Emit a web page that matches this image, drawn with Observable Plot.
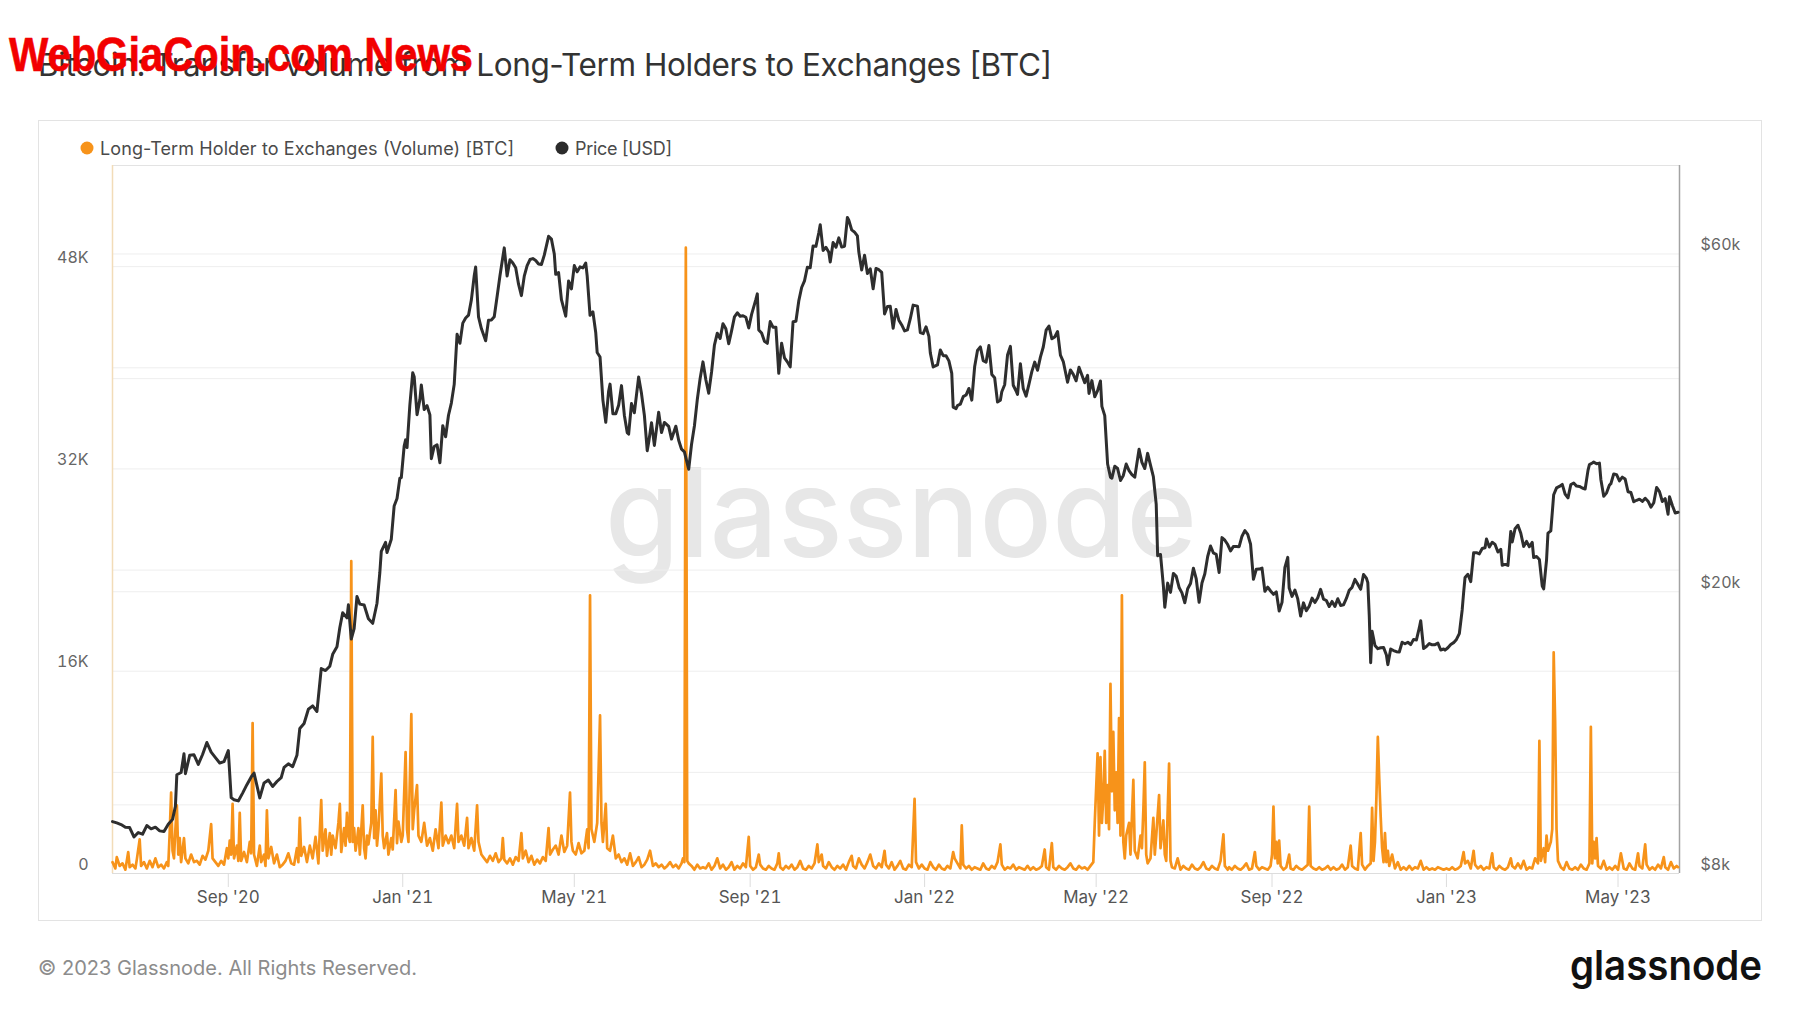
<!DOCTYPE html>
<html><head><meta charset="utf-8">
<script src="https://cdn.jsdelivr.net/npm/d3@7"></script>
<script src="https://cdn.jsdelivr.net/npm/@observablehq/plot@0.6"></script>
<style>
html,body{margin:0;padding:0;background:#fff;}
body{width:1800px;height:1013px;position:relative;overflow:hidden;font-family:Inter,"Noto Sans",sans-serif;}
#overlay{position:absolute;left:0;top:0;}
#chart{position:absolute;left:38px;top:120px;}
</style></head>
<body>
<svg id="overlay" width="1800" height="1013" xmlns="http://www.w3.org/2000/svg">
  <rect x="38.5" y="120.5" width="1723" height="800" fill="none" stroke="#e3e3e3" stroke-width="1"/>
  <text x="605" y="557" font-family="Inter" font-weight="500" font-size="124" fill="#e7e7e7" textLength="592" lengthAdjust="spacingAndGlyphs">glassnode</text>
  <text x="38" y="76" font-family="Inter" font-size="31.5" fill="#333" textLength="1014">Bitcoin: Transfer Volume from Long-Term Holders to Exchanges [BTC]</text>
  <text x="9" y="71" font-family="Liberation Sans, Arial" font-weight="bold" font-size="48" fill="#f20000" stroke="#f20000" stroke-width="0.6" textLength="464" lengthAdjust="spacingAndGlyphs">WebGiaCoin.com News</text>
  <circle cx="87" cy="148" r="6.5" fill="#f7931a"/>
  <text x="100" y="154.5" font-family="Inter" font-size="18" fill="#4a4a4a" textLength="414">Long-Term Holder to Exchanges (Volume) [BTC]</text>
  <circle cx="562" cy="148" r="6.5" fill="#2b2b2b"/>
  <text x="575" y="154.5" font-family="Inter" font-size="18" fill="#4a4a4a" textLength="97">Price [USD]</text>
  <text x="38" y="975" font-family="Inter" font-size="20" fill="#8c8c8c" textLength="379">© 2023 Glassnode. All Rights Reserved.</text>
  <text x="1762" y="980" text-anchor="end" font-family="Inter" font-weight="600" font-size="41" fill="#111" textLength="192" lengthAdjust="spacingAndGlyphs">glassnode</text>
</svg>
<div id="chart"></div>
<script>
// ---------- DATA ----------
const xTicks = ["2020-09-01","2021-01-01","2021-05-01","2021-09-01","2022-01-01","2022-05-01","2022-09-01","2023-01-01","2023-05-01"];
const volTicks = [0, 16000, 32000, 48000];
const volGrid = [8000, 16000, 24000, 32000, 40000, 48000];
const priceTicks = [8000, 20000, 60000];
const priceGrid = [10000, 20000, 40000, 60000];

const price2020 = [["06-12",9470],["06-15",9430],["06-18",9380],["06-21",9300],["06-24",9290],["06-27",9010],["06-30",9140],["07-03",9090],["07-06",9350],["07-09",9250],["07-12",9300],["07-15",9190],["07-18",9170],["07-21",9390],["07-24",9540],["07-26",9950],["07-27",11030],["07-30",11110],["08-01",11810],["08-02",11070],["08-05",11750],["08-08",11770],["08-11",11410],["08-14",11780],["08-17",12250],["08-20",11870],["08-23",11660],["08-26",11460],["08-29",11510],["09-01",11930],["09-03",10240],["09-05",10170],["09-08",10130],["09-11",10390],["09-14",10680],["09-17",10950],["09-19",11090],["09-23",10230],["09-26",10740],["09-29",10840],["10-02",10620],["10-05",10790],["10-08",10930],["10-10",11300],["10-13",11430],["10-16",11320],["10-19",11750],["10-21",12820],["10-24",13030],["10-27",13650],["10-30",13800],["11-02",13550],["11-05",15580],["11-08",15480],["11-11",15700],["11-13",16320],["11-16",16720],["11-18",17800],["11-20",18680],["11-23",18370],["11-24",19170],["11-26",17150],["11-28",17740],["11-30",19700],["12-02",19210],["12-05",19160],["12-08",18320],["12-11",18050],["12-14",19270],["12-16",21310],["12-17",22800],["12-20",23480],["12-21",22720],["12-24",23730],["12-26",26440],["12-28",27080],["12-30",28950],["12-31",29000]];
const price2021 = [["01-02",32130],["01-03",32780],["01-04",31970],["01-06",36770],["01-08",40780],["01-09",40250],["01-11",35570],["01-13",37390],["01-14",39190],["01-16",36180],["01-18",36630],["01-20",35550],["01-21",30830],["01-23",32080],["01-25",32260],["01-27",30430],["01-29",34320],["01-31",33110],["02-02",35510],["02-04",36940],["02-06",39260],["02-08",46200],["02-10",44880],["02-12",47910],["02-14",48720],["02-16",49170],["02-18",51680],["02-20",55890],["02-21",57490],["02-23",48890],["02-25",47070],["02-28",45240],["03-02",48380],["03-04",48410],["03-06",48910],["03-08",52250],["03-10",55900],["03-13",61200],["03-15",55850],["03-17",58900],["03-19",58250],["03-21",57350],["03-23",54390],["03-25",52400],["03-27",55830],["03-29",57750],["03-31",58920],["04-02",59100],["04-04",58730],["04-06",58070],["04-08",57970],["04-10",59770],["04-13",63540],["04-15",62970],["04-17",60000],["04-18",56150],["04-20",56470],["04-22",51700],["04-25",49000],["04-27",54960],["04-29",53550],["05-01",57770],["05-03",56620],["05-05",57530],["05-07",57340],["05-09",58240],["05-10",55860],["05-12",49150],["05-14",49710],["05-16",46430],["05-17",43540],["05-19",42910],["05-21",37300],["05-23",34700],["05-25",38400],["05-26",39290],["05-28",35680],["05-30",35680],["06-01",36690],["06-03",39100],["06-05",35520],["06-07",33560],["06-08",33400],["06-10",36880],["06-12",35800],["06-15",40220],["06-17",38100],["06-19",35510],["06-21",31640],["06-22",32500],["06-24",34660],["06-26",32190],["06-29",35870],["07-01",33570],["07-03",34690],["07-06",34240],["07-08",32860],["07-11",34270],["07-13",32730],["07-15",31800],["07-17",31530],["07-20",29790],["07-22",32310],["07-24",34290],["07-26",37340],["07-28",40010],["07-30",42240],["08-01",39860],["08-03",38150],["08-05",40870],["08-07",44610],["08-09",46370],["08-11",45590],["08-13",47830],["08-15",47050],["08-17",44800],["08-19",46720],["08-21",48900],["08-23",49550],["08-25",48990],["08-27",49070],["08-29",48830],["08-31",47170],["09-02",49290],["09-05",51760],["09-06",52700],["09-07",46860],["09-09",46400],["09-11",45160],["09-13",44870],["09-15",48150],["09-17",47280],["09-19",47290],["09-21",40700],["09-23",44880],["09-25",42800],["09-27",42240],["09-29",41560],["10-01",48130],["10-03",48200],["10-05",51500],["10-07",53800],["10-09",54970],["10-11",57470],["10-13",57370],["10-15",61580],["10-17",61500],["10-19",64280],["10-20",66000],["10-22",60690],["10-24",61310],["10-26",60350],["10-27",58450],["10-29",62270],["10-31",61310],["11-02",63230],["11-04",61370],["11-06",61530],["11-08",67550],["11-09",66950],["11-11",64900],["11-13",64400],["11-15",63620],["11-16",60370],["11-18",56940],["11-20",59750],["11-22",56300],["11-24",57170],["11-26",53570],["11-28",57230],["11-30",57000],["12-02",56500],["12-04",49370],["12-06",50580],["12-08",50600],["12-10",47130],["12-12",50100],["12-14",48380],["12-16",47630],["12-18",46710],["12-20",46880],["12-22",48600],["12-24",50800],["12-27",50640],["12-29",46460],["12-31",46300]];
const price2022 = [["01-02",47350],["01-04",45900],["01-05",43500],["01-07",41550],["01-10",41820],["01-12",43900],["01-14",43100],["01-16",43090],["01-18",42380],["01-20",40680],["01-21",36460],["01-23",36280],["01-24",36650],["01-26",36820],["01-28",37720],["01-30",37920],["02-01",38740],["02-03",37300],["02-05",41570],["02-07",43840],["02-09",44360],["02-11",42410],["02-13",42200],["02-15",44540],["02-17",40550],["02-19",40120],["02-21",37070],["02-23",37280],["02-24",38330],["02-26",39210],["02-28",43190],["03-02",44420],["03-04",39150],["03-06",38420],["03-07",37990],["03-09",41980],["03-11",38730],["03-13",37790],["03-15",39280],["03-17",40920],["03-19",42210],["03-21",41110],["03-23",42900],["03-25",44330],["03-27",46820],["03-29",47460],["03-31",45540],["04-02",45810],["04-04",46620],["04-06",43170],["04-08",42290],["04-11",39530],["04-13",41150],["04-15",40560],["04-17",39720],["04-19",41500],["04-21",40480],["04-23",39470],["04-25",40430],["04-26",38120],["04-28",39740],["04-30",37710],["05-02",38470],["05-04",39690],["05-05",36550],["05-07",35470],["05-09",30300],["05-11",29030],["05-12",28940],["05-14",30080],["05-16",29860],["05-18",28720],["05-20",29200],["05-22",30300],["05-24",29650],["05-26",29270],["05-28",29030],["05-31",31790],["06-02",30470],["06-04",29860],["06-06",31370],["06-08",30190],["06-10",29090],["06-12",26570],["06-13",22490],["06-15",22580],["06-17",20380],["06-18",19020],["06-20",20570],["06-22",19960],["06-24",21230],["06-26",21030],["06-28",20280],["06-30",19930],["07-02",19300],["07-04",20200],["07-06",20550],["07-08",21590],["07-10",20850],["07-12",19330],["07-14",20580],["07-16",21210],["07-18",22430],["07-20",23210],["07-22",22690],["07-24",22580],["07-26",21300],["07-28",23850],["07-30",23650],["08-01",23320],["08-03",22840],["08-05",23180],["08-07",23170],["08-09",23160],["08-11",23960],["08-13",24400],["08-15",24100],["08-17",23340],["08-19",20830],["08-21",21520],["08-23",21530],["08-25",21600],["08-27",20030],["08-29",20300],["08-31",20050],["09-02",19830],["09-04",19990],["09-06",18790],["09-08",19320],["09-10",21650],["09-12",22370],["09-13",20240],["09-15",19700],["09-17",20110],["09-19",19540],["09-21",18480],["09-23",19290],["09-25",18800],["09-27",19080],["09-29",19590],["10-01",19310],["10-03",19620],["10-05",20160],["10-07",19530],["10-09",19440],["10-11",19060],["10-13",19380],["10-15",19070],["10-17",19550],["10-19",19130],["10-21",19170],["10-23",19570],["10-25",20100],["10-27",20290],["10-29",20820],["10-31",20490],["11-02",20160],["11-04",21150],["11-06",20910],["11-07",20600],["11-08",18540],["11-09",15880],["11-10",17590],["11-12",16790],["11-14",16620],["11-16",16670],["11-18",16690],["11-20",16280],["11-21",15780],["11-23",16600],["11-25",16520],["11-27",16460],["11-29",16440],["12-01",16970],["12-03",16890],["12-05",16970],["12-07",16840],["12-09",17130],["12-11",17100],["12-13",17780],["12-14",18200],["12-16",16630],["12-18",16740],["12-20",16900],["12-22",16830],["12-24",16840],["12-26",16920],["12-28",16550],["12-30",16600],["12-31",16540]];
const price2023 = [["01-02",16670],["01-04",16850],["01-06",16950],["01-08",17130],["01-10",17450],["01-12",18850],["01-13",19930],["01-14",20950],["01-16",21170],["01-18",20670],["01-20",22700],["01-22",22710],["01-24",22620],["01-26",23020],["01-28",23080],["01-29",23740],["01-31",23130],["02-02",23490],["02-04",23330],["02-06",22760],["02-08",22960],["02-09",21800],["02-11",21860],["02-13",21790],["02-15",24330],["02-16",23520],["02-18",24560],["02-20",24830],["02-22",24190],["02-24",23180],["02-26",23560],["02-28",23150],["03-02",23480],["03-03",22350],["03-05",22430],["03-07",22210],["03-09",20370],["03-10",20190],["03-12",22160],["03-13",24200],["03-15",24380],["03-17",27420],["03-19",28040],["03-21",28170],["03-23",28360],["03-25",27480],["03-27",27140],["03-29",28350],["03-31",28480],["04-02",28200],["04-04",28170],["04-06",28030],["04-08",27940],["04-10",29680],["04-11",30240],["04-13",30400],["04-14",30490],["04-16",30320],["04-18",30390],["04-19",28820],["04-21",27280],["04-23",27590],["04-25",28300],["04-26",28420],["04-28",29340],["04-30",29270],["05-02",28680],["05-04",29030],["05-06",28850],["05-08",27690],["05-10",27620],["05-12",26800],["05-14",26930],["05-16",27030],["05-18",26830],["05-20",27110],["05-22",26850],["05-24",26330],["05-26",26720],["05-28",28080],["05-30",27700],["06-01",26820],["06-03",27070],["06-05",25740],["06-06",27240],["06-08",26480],["06-10",25840],["06-12",25900]];

const vol2020 = [["06-12",900],["06-14",400],["06-15",1300],["06-17",600],["06-19",800],["06-21",300],["06-23",1700],["06-24",500],["06-26",700],["06-28",400],["06-29",1100],["07-01",2700],["07-02",600],["07-04",900],["07-06",400],["07-08",1000],["07-10",500],["07-12",1200],["07-14",500],["07-16",700],["07-18",400],["07-20",900],["07-21",600],["07-22",3200],["07-23",6400],["07-24",1800],["07-25",1200],["07-26",3500],["07-27",5400],["07-28",1500],["07-29",2800],["07-30",900],["08-01",2800],["08-02",1200],["08-04",800],["08-06",1500],["08-08",900],["08-10",1000],["08-12",700],["08-14",1400],["08-16",1100],["08-18",1800],["08-20",3900],["08-21",1200],["08-23",900],["08-25",600],["08-27",1000],["08-29",700],["08-31",2000],["09-01",1200],["09-02",2600],["09-03",1500],["09-04",5500],["09-05",1200],["09-07",2200],["09-08",1000],["09-09",4800],["09-10",1000],["09-12",1700],["09-14",900],["09-16",2500],["09-17",1600],["09-18",11900],["09-19",1500],["09-21",600],["09-23",2200],["09-24",900],["09-26",1500],["09-27",600],["09-28",5000],["09-29",1200],["10-01",2100],["10-03",800],["10-05",1500],["10-07",500],["10-09",700],["10-11",1000],["10-13",1600],["10-15",800],["10-17",700],["10-19",2000],["10-20",900],["10-21",4400],["10-22",1400],["10-24",2100],["10-26",900],["10-28",2200],["10-30",1200],["11-01",2900],["11-03",800],["11-05",5800],["11-06",1800],["11-08",3500],["11-09",1400],["11-11",3200],["11-12",1500],["11-13",3000],["11-15",2000],["11-17",4000],["11-18",5500],["11-19",1700],["11-21",3600],["11-22",2200],["11-23",4800],["11-24",3000],["11-25",2500],["11-26",24700],["11-27",2500],["11-28",3600],["11-29",1800],["11-30",2600],["12-01",3600],["12-02",1500],["12-04",5400],["12-05",2000],["12-06",1200],["12-07",3000],["12-08",2300],["12-10",4000],["12-11",10800],["12-12",2800],["12-13",5000],["12-14",2200],["12-15",3500],["12-17",7900],["12-18",3000],["12-19",2000],["12-21",3200],["12-22",1500],["12-24",2800],["12-25",1900],["12-27",6600],["12-28",2400],["12-29",4100],["12-31",2500]];
const vol2021 = [["01-01",3000],["01-03",9600],["01-04",3500],["01-05",2500],["01-07",12600],["01-08",3500],["01-09",5000],["01-11",7000],["01-12",3000],["01-14",2500],["01-16",4000],["01-18",2200],["01-20",2800],["01-22",1800],["01-24",3500],["01-26",2000],["01-28",5600],["01-29",2200],["01-31",3000],["02-02",2400],["02-04",3000],["02-06",2000],["02-08",5500],["02-09",2500],["02-11",3000],["02-13",2200],["02-15",4400],["02-16",2000],["02-18",2800],["02-20",1800],["02-22",5400],["02-23",2500],["02-25",1500],["02-27",1200],["03-01",900],["03-03",1400],["03-05",1000],["03-07",1600],["03-09",900],["03-11",1200],["03-12",2800],["03-13",1100],["03-15",800],["03-17",1200],["03-19",700],["03-21",1300],["03-23",1000],["03-25",3200],["03-26",1200],["03-28",1800],["03-30",900],["04-01",1400],["04-03",700],["04-05",1100],["04-07",800],["04-09",1300],["04-11",1000],["04-13",3600],["04-14",1500],["04-16",1900],["04-18",2200],["04-20",1500],["04-22",3000],["04-24",1700],["04-26",2200],["04-28",6400],["04-29",2500],["04-30",1800],["05-02",1500],["05-04",2400],["05-06",1600],["05-08",1800],["05-10",3500],["05-11",2000],["05-12",22000],["05-13",3500],["05-15",2500],["05-17",4000],["05-19",12500],["05-20",4000],["05-21",2500],["05-23",5500],["05-24",2000],["05-26",1800],["05-28",3000],["05-30",1200],["06-01",1500],["06-03",900],["06-05",1200],["06-07",700],["06-09",1600],["06-11",600],["06-13",900],["06-15",1300],["06-17",500],["06-19",700],["06-21",1100],["06-23",1800],["06-25",600],["06-27",800],["06-29",500],["07-01",700],["07-03",400],["07-05",600],["07-07",900],["07-09",500],["07-11",700],["07-13",400],["07-15",800],["07-16",1200],["07-17",900],["07-18",49500],["07-19",1000],["07-20",800],["07-22",600],["07-24",300],["07-26",700],["07-28",400],["07-30",500],["08-01",400],["08-03",800],["08-05",300],["08-07",600],["08-09",1200],["08-11",400],["08-13",700],["08-15",300],["08-17",500],["08-19",900],["08-21",300],["08-23",600],["08-25",400],["08-27",800],["08-29",500],["08-31",2900],["09-01",600],["09-03",300],["09-05",500],["09-07",1500],["09-08",700],["09-10",400],["09-12",300],["09-14",600],["09-16",400],["09-18",300],["09-20",800],["09-21",1600],["09-22",500],["09-24",300],["09-26",600],["09-28",400],["09-30",700],["10-02",300],["10-04",500],["10-06",1000],["10-08",400],["10-10",300],["10-12",600],["10-14",400],["10-16",800],["10-18",2300],["10-19",900],["10-21",1500],["10-22",600],["10-24",400],["10-26",900],["10-28",500],["10-30",300],["11-01",600],["11-03",400],["11-05",700],["11-07",300],["11-09",900],["11-11",1400],["11-12",600],["11-14",400],["11-16",1200],["11-18",700],["11-20",400],["11-22",900],["11-24",1500],["11-26",600],["11-28",400],["11-30",800],["12-02",500],["12-04",1800],["12-05",700],["12-07",400],["12-09",900],["12-11",300],["12-13",600],["12-15",1000],["12-17",400],["12-19",300],["12-21",700],["12-23",500],["12-25",5900],["12-26",900],["12-28",400],["12-30",700]];
const vol2022 = [["01-01",400],["01-03",300],["01-05",900],["01-07",500],["01-09",300],["01-11",700],["01-13",400],["01-15",300],["01-17",600],["01-19",400],["01-21",1700],["01-22",1200],["01-24",800],["01-26",400],["01-27",3800],["01-28",700],["01-30",400],["02-01",600],["02-03",300],["02-05",500],["02-07",400],["02-09",300],["02-11",800],["02-13",400],["02-15",300],["02-17",600],["02-19",400],["02-21",900],["02-23",2300],["02-24",700],["02-26",300],["02-28",500],["03-02",400],["03-04",700],["03-06",300],["03-08",500],["03-10",400],["03-12",300],["03-14",600],["03-16",300],["03-18",500],["03-20",300],["03-22",400],["03-24",600],["03-26",1900],["03-27",500],["03-29",300],["03-31",2400],["04-01",500],["04-03",300],["04-05",600],["04-07",400],["04-09",300],["04-11",500],["04-13",800],["04-15",400],["04-17",300],["04-19",600],["04-21",400],["04-23",500],["04-25",300],["04-27",600],["04-29",900],["04-30",4000],["05-02",9500],["05-03",3000],["05-04",9200],["05-05",4000],["05-06",6000],["05-07",9700],["05-08",4000],["05-09",7000],["05-10",3500],["05-11",15000],["05-12",6500],["05-13",11200],["05-14",5000],["05-15",8000],["05-16",4000],["05-17",12300],["05-18",3000],["05-19",22000],["05-20",2500],["05-21",1200],["05-22",3000],["05-24",4000],["05-25",1500],["05-27",7400],["05-28",1800],["05-30",1200],["06-01",3000],["06-02",2000],["06-03",5000],["06-04",8800],["06-05",1500],["06-06",800],["06-08",1200],["06-10",4400],["06-11",1500],["06-12",3000],["06-14",6200],["06-15",2000],["06-17",4200],["06-18",1500],["06-19",1000],["06-21",8700],["06-22",1000],["06-23",500],["06-25",400],["06-27",1200],["06-29",300],["07-01",600],["07-03",400],["07-05",300],["07-07",700],["07-09",400],["07-11",300],["07-13",500],["07-15",900],["07-17",400],["07-19",300],["07-21",600],["07-23",400],["07-25",300],["07-27",1000],["07-29",3100],["07-30",600],["08-01",300],["08-02",500],["08-04",300],["08-06",600],["08-08",400],["08-10",300],["08-12",500],["08-14",800],["08-16",300],["08-18",400],["08-20",1700],["08-21",600],["08-23",300],["08-25",500],["08-27",400],["08-29",300],["08-31",600],["09-01",1500],["09-02",5300],["09-03",1200],["09-04",2500],["09-05",800],["09-06",2600],["09-07",600],["09-09",300],["09-11",500],["09-13",1500],["09-14",400],["09-16",300],["09-18",600],["09-20",400],["09-22",300],["09-24",500],["09-26",700],["09-27",5300],["09-28",600],["09-30",400],["10-02",300],["10-04",500],["10-06",300],["10-08",400],["10-10",600],["10-12",300],["10-14",500],["10-16",300],["10-18",400],["10-20",700],["10-22",300],["10-24",500],["10-26",2200],["10-27",600],["10-29",400],["10-31",300],["11-02",3200],["11-03",700],["11-05",300],["11-07",600],["11-09",800],["11-10",5200],["11-11",1000],["11-12",2500],["11-13",6000],["11-14",10800],["11-15",7500],["11-16",4500],["11-17",2000],["11-18",900],["11-19",3200],["11-20",900],["11-21",1800],["11-22",600],["11-24",1500],["11-26",400],["11-28",900],["11-30",300],["12-02",500],["12-04",300],["12-06",600],["12-08",300],["12-10",500],["12-12",400],["12-14",1000],["12-16",300],["12-18",500],["12-20",300],["12-22",400],["12-24",300],["12-26",500],["12-28",400],["12-30",300]];
const vol2023 = [["01-01",400],["01-03",300],["01-05",500],["01-07",300],["01-09",400],["01-11",600],["01-13",1700],["01-14",800],["01-16",1000],["01-18",400],["01-20",1800],["01-21",700],["01-23",400],["01-25",600],["01-27",300],["01-29",500],["01-31",400],["02-02",1600],["02-03",500],["02-05",300],["02-07",600],["02-09",400],["02-11",300],["02-13",500],["02-15",1200],["02-16",600],["02-18",400],["02-20",800],["02-22",400],["02-24",1000],["02-26",300],["02-28",500],["03-02",400],["03-04",1200],["03-06",800],["03-07",10500],["03-08",1000],["03-10",2000],["03-11",900],["03-12",3000],["03-13",1800],["03-15",2500],["03-16",3500],["03-17",17500],["03-18",12100],["03-19",3500],["03-20",1000],["03-22",500],["03-24",300],["03-26",900],["03-28",400],["03-30",300],["04-01",500],["04-03",300],["04-05",700],["04-07",400],["04-09",300],["04-11",800],["04-12",11600],["04-13",800],["04-14",2500],["04-15",1200],["04-16",2800],["04-17",600],["04-19",400],["04-21",1000],["04-23",300],["04-25",500],["04-27",300],["04-29",600],["05-01",300],["05-03",1600],["05-05",400],["05-07",300],["05-09",800],["05-11",400],["05-13",300],["05-15",1600],["05-16",600],["05-18",400],["05-20",2300],["05-21",700],["05-23",300],["05-25",500],["05-27",300],["05-29",700],["05-31",400],["06-02",1300],["06-03",500],["06-05",300],["06-07",900],["06-09",400],["06-11",600],["06-12",500]];

// ---------- BUILD TABLES ----------
const withYear = (arr, y) => arr.map(([md, v]) => ({date: new Date(`${y}-${md}`), value: v}));
const price = [...withYear(price2020,2020), ...withYear(price2021,2021), ...withYear(price2022,2022), ...withYear(price2023,2023)];
const volume = [...withYear(vol2020,2020), ...withYear(vol2021,2021), ...withYear(vol2022,2022), ...withYear(vol2023,2023)];

const VOL_MAX = 56000;
const priceScale = d3.scaleLog().domain([8000, 80000]).range([0, VOL_MAX]);
const xStart = new Date("2020-06-12"), xEnd = new Date("2023-06-13");

const chart = Plot.plot({
  width: 1724, height: 800,
  marginLeft: 74, marginRight: 83, marginTop: 45, marginBottom: 47,
  style: {background: "transparent", fontFamily: "Inter, 'Noto Sans', sans-serif"},
  x: {type: "utc", domain: [xStart, xEnd]},
  y: {domain: [0, VOL_MAX]},
  marks: [
    Plot.ruleY(volGrid, {stroke: "#eeeeee", strokeWidth: 1}),
    Plot.ruleY(priceGrid.map(p => priceScale(p)), {stroke: "#eeeeee", strokeWidth: 1}),
    Plot.ruleY([VOL_MAX], {stroke: "#e3e3e3"}),
    Plot.ruleY([0], {stroke: "#dddddd"}),
    Plot.ruleX([xStart], {stroke: "#f2dcb8", strokeWidth: 1.5}),
    Plot.ruleX([xEnd], {stroke: "#a3a3a3", strokeWidth: 1.5}),
    Plot.line(volume, {x: "date", y: "value", stroke: "#f7931a", strokeWidth: 2.7, strokeLinejoin: "round"}),
    Plot.line(price, {x: "date", y: d => priceScale(d.value), stroke: "#2e2e2e", strokeWidth: 3, strokeLinejoin: "round"}),
    Plot.axisY(volTicks, {anchor: "left", tickSize: 0, tickPadding: 24, dy: -9, fontSize: 16, fill: "#666",
      tickFormat: d => d === 0 ? "0" : (d / 1000) + "K", label: null}),
    Plot.axisY(priceTicks.map(p => priceScale(p)), {anchor: "right", tickSize: 0, tickPadding: 21, dy: -9, fontSize: 16, fill: "#666",
      tickFormat: v => "$" + Math.round(priceScale.invert(v) / 1000) + "k", label: null}),
    Plot.axisX(xTicks.map(d => new Date(d)), {anchor: "bottom", tickSize: 14, tickPadding: 3, stroke: "#dcdcdc",
      fontSize: 17, fill: "#555", tickFormat: d3.utcFormat("%b '%y"), label: null})
  ]
});
document.getElementById("chart").appendChild(chart);
</script>
</body></html>
